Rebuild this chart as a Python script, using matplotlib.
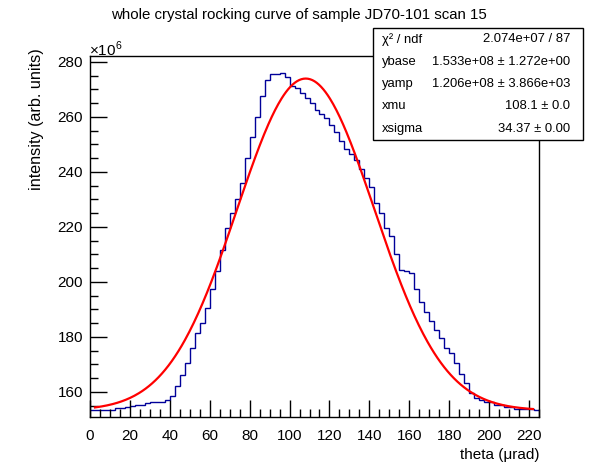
import numpy as np
import matplotlib
matplotlib.use("Agg")
import matplotlib.pyplot as plt
from matplotlib.patches import Rectangle

plt.rcParams['font.family'] = ['Liberation Sans', 'DejaVu Sans']
plt.rcParams['mathtext.fontset'] = 'custom'
plt.rcParams['mathtext.rm'] = 'Liberation Sans'

# --- data (intensities in units of 1e6) ---
bin_width = 2.5
counts = [
    153.4, 153.4, 153.5, 153.5, 153.6, 154.2, 154.3, 154.7, 154.8, 155.1,
    155.3, 155.9, 156.2, 156.4, 156.5, 156.9, 158.7, 162.0, 166.1, 170.5,
    175.8, 181.3, 184.9, 190.4, 197.4, 203.8, 211.7, 219.6, 225.1, 230.2,
    236.0, 244.9, 252.8, 260.1, 267.4, 273.3, 275.4, 275.4, 275.8, 274.3,
    271.2, 270.3, 268.8, 267.0, 264.9, 262.4, 260.9, 259.4, 256.9, 254.3,
    251.2, 248.4, 246.6, 244.2, 241.1, 237.6, 234.6, 228.7, 225.1, 219.6,
    216.8, 210.1, 204.4, 203.8, 203.2, 197.4, 192.8, 189.2, 185.8, 182.5,
    179.5, 175.8, 174.0, 170.4, 166.5, 163.1, 159.7, 157.8, 157.2, 156.3,
    156.3, 155.2, 155.2, 154.5, 154.5, 153.9, 153.9, 153.7, 153.7, 153.6,
]

# fit parameters from the stats box
ybase = 153.3
yamp = 120.6
xmu = 108.1
xsigma = 34.37
fit_range = (2.5, 222.0)

stat_names = ["χ² / ndf", "ybase", "yamp", "xmu", "xsigma"]
stat_values = ["2.074e+07 / 87", "1.533e+08 ± 1.272e+00",
               "1.206e+08 ± 3.866e+03", "108.1 ± 0.0", "34.37 ± 0.00"]

edges = np.arange(len(counts) + 1) * bin_width

fig = plt.figure(figsize=(5.98, 4.74), dpi=100)
W, H = 598, 474
ax = fig.add_axes([90 / W, 1 - 417 / H, 449 / W, 361 / H])

ax.stairs(counts, edges, baseline=None, color='#000099', linewidth=1.0)

xf = np.linspace(fit_range[0], fit_range[1], 400)
yf = ybase + yamp * np.exp(-0.5 * ((xf - xmu) / xsigma) ** 2)
ax.plot(xf, yf, color='#ff0000', linewidth=1.6)

ax.set_xlim(0, 225)
ax.set_ylim(150.9, 282.1)
ax.set_xticks(np.arange(0, 221, 20))
ax.set_xticks(np.arange(0, 226, 5), minor=True)
ax.set_yticks(np.arange(160, 281, 20))
ax.set_yticks(np.arange(155, 281, 5), minor=True)
ax.tick_params(which='both', direction='in', top=False, right=False,
               labelsize=11, width=1.0, color='black')
ax.tick_params(which='major', length=12)
ax.tick_params(which='minor', length=6)
ax.tick_params(axis='x', pad=9)
ax.tick_params(axis='y', pad=5)
for sp in ax.spines.values():
    sp.set_linewidth(1.0)

ax.set_xlabel("theta (μrad)", fontsize=11, loc='right', labelpad=3)
ax.set_ylabel("intensity (arb. units)", fontsize=11.6, loc='top')
ax.yaxis.set_label_coords(-46 / 449, 1 + 8 / 361)

fig.text(89 / W, 1 - 49 / H, r"$\times10^{6}$", fontsize=11,
         ha='left', va='center')
fig.text(0.5, 1 - 15 / H,
         "whole crystal rocking curve of sample JD70-101 scan 15",
         fontsize=10.8, ha='center', va='center')

# stats box
bx0, bx1, by0, by1 = 373, 583, 28, 140
fig.add_artist(Rectangle((bx0 / W, 1 - by1 / H), (bx1 - bx0) / W,
                         (by1 - by0) / H, transform=fig.transFigure,
                         facecolor='white', edgecolor='black', linewidth=1.0,
                         zorder=5))
row_h = (by1 - by0) / len(stat_names)
for i, (name, val) in enumerate(zip(stat_names, stat_values)):
    yy = 1 - (by0 + row_h * (i + 0.5)) / H
    fig.text((bx0 + 9) / W, yy, name, fontsize=9.4, ha='left',
             va='center', zorder=6)
    fig.text((bx1 - 13) / W, yy, val, fontsize=9.4, ha='right',
             va='center', zorder=6)

fig.savefig("out.png", dpi=100)
